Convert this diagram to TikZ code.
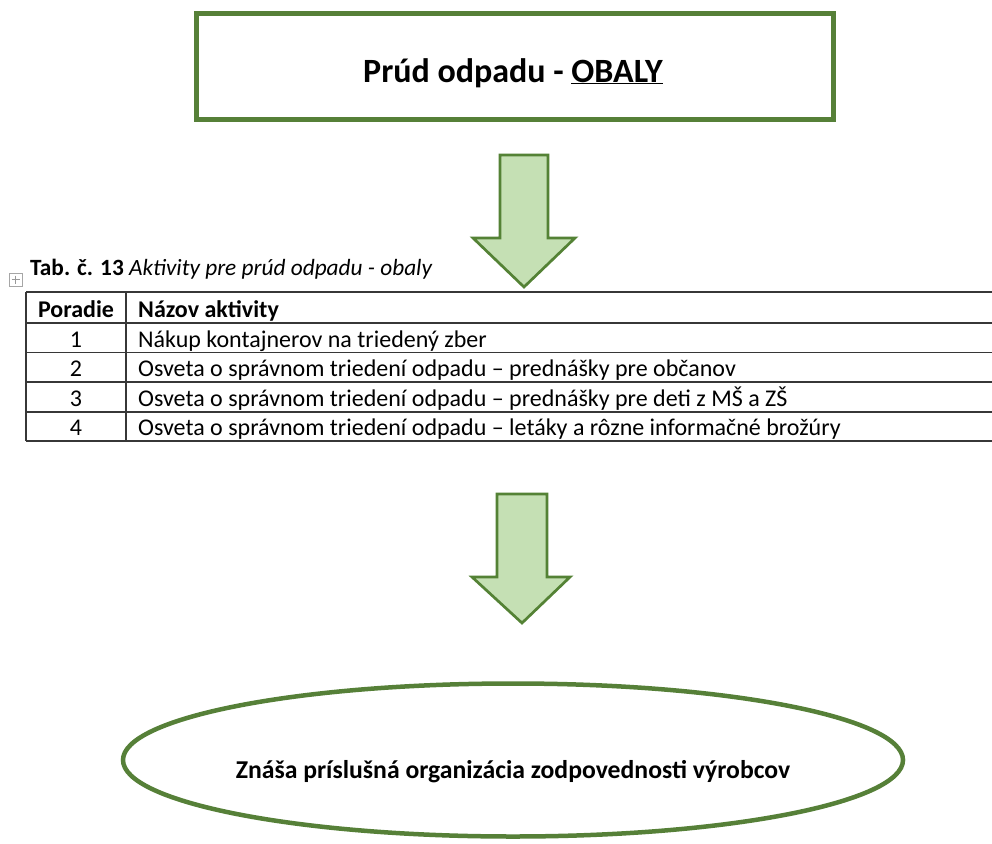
\documentclass[tikz,border=0pt]{standalone}
\usepackage{fontspec}
\setmainfont{Carlito}
\usetikzlibrary{shapes.geometric}
\definecolor{boxgreen}{RGB}{86,128,56}
\definecolor{arrowfill}{RGB}{197,224,180}
\definecolor{arrowline}{RGB}{84,130,53}
\definecolor{tableline}{RGB}{55,55,55}
\begin{document}
\begin{tikzpicture}[x=1pt,y=-1pt,
  titlebox/.style={draw=boxgreen, line width=5pt, minimum width=637pt, minimum height=105pt, inner sep=0pt},
  orgellipse/.style={ellipse, draw=boxgreen, line width=4.5pt, minimum width=780pt, minimum height=153pt, inner sep=0pt},
  blockarrow/.style={draw=arrowline, fill=arrowfill, line width=2.7pt, line join=miter},
  tline/.style={draw=tableline, line width=1.3pt},
  cell/.style={font=\fontsize{24}{28}\selectfont, inner sep=0pt, anchor=base west},
  numcell/.style={font=\fontsize{24}{28}\selectfont, inner sep=0pt, anchor=base},
]
\useasboundingbox (0,0) rectangle (992,843);
\fill[white] (0,0) rectangle (992,843);

% title box
\node[titlebox] (title) at (514.5,66.5) {};
\node[inner sep=0pt, anchor=base, font=\fontsize{34}{40}\selectfont\bfseries] (titletext) at (513,82) {Prúd odpadu - \underline{OBALY}};

% arrow 1
\draw[blockarrow] (500,155) -- (548,155) -- (548,238) -- (575,238) -- (524,287) -- (473,238) -- (500,238) -- cycle;

% caption
\node[inner sep=0pt, anchor=base west, font=\fontsize{23.3}{28}\selectfont] (caption) at (30,275) {\textbf{Tab. č. 13} \textit{Aktivity pre prúd odpadu - obaly}};
% move handle
\draw[gray!70, line width=0.6pt] (9,273) rectangle (22,286);
\draw[gray!80, line width=0.6pt] (15.5,275.5) -- (15.5,283.5) (11.5,279.5) -- (19.5,279.5);

% table lines
\foreach \yy in {292,323,352.5,382,412,441} \draw[tline] (26,\yy) -- (992,\yy);
\draw[tline] (26,292) -- (26,441);
\draw[tline] (126,292) -- (126,441);

% table text
\node[numcell, font=\fontsize{24}{28}\selectfont\bfseries] (h1) at (76,317) {Poradie};
\node[cell, font=\fontsize{24}{28}\selectfont\bfseries] (h2) at (138,317) {Názov aktivity};
\node[numcell] (n1) at (76,347) {1};
\node[cell] (t1) at (138,347) {Nákup kontajnerov na triedený zber};
\node[numcell] (n2) at (76,376.5) {2};
\node[cell] (t2) at (138,376.5) {Osveta o správnom triedení odpadu – prednášky pre občanov};
\node[numcell] (n3) at (76,406) {3};
\node[cell] (t3) at (138,406) {Osveta o správnom triedení odpadu – prednášky pre deti z MŠ a ZŠ};
\node[numcell] (n4) at (76,435.5) {4};
\node[cell] (t4) at (138,435.5) {Osveta o správnom triedení odpadu – letáky a rôzne informačné brožúry};

% arrow 2
\draw[blockarrow] (497,494) -- (547,494) -- (547,577) -- (570,577) -- (522,623) -- (472,577) -- (497,577) -- cycle;

% ellipse
\node[orgellipse] (org) at (513,760) {};
\node[inner sep=0pt, font=\fontsize{25.7}{30}\selectfont\bfseries] (orgtext) at (513,772) {Znáša príslušná organizácia zodpovednosti výrobcov};
\end{tikzpicture}
\end{document}
